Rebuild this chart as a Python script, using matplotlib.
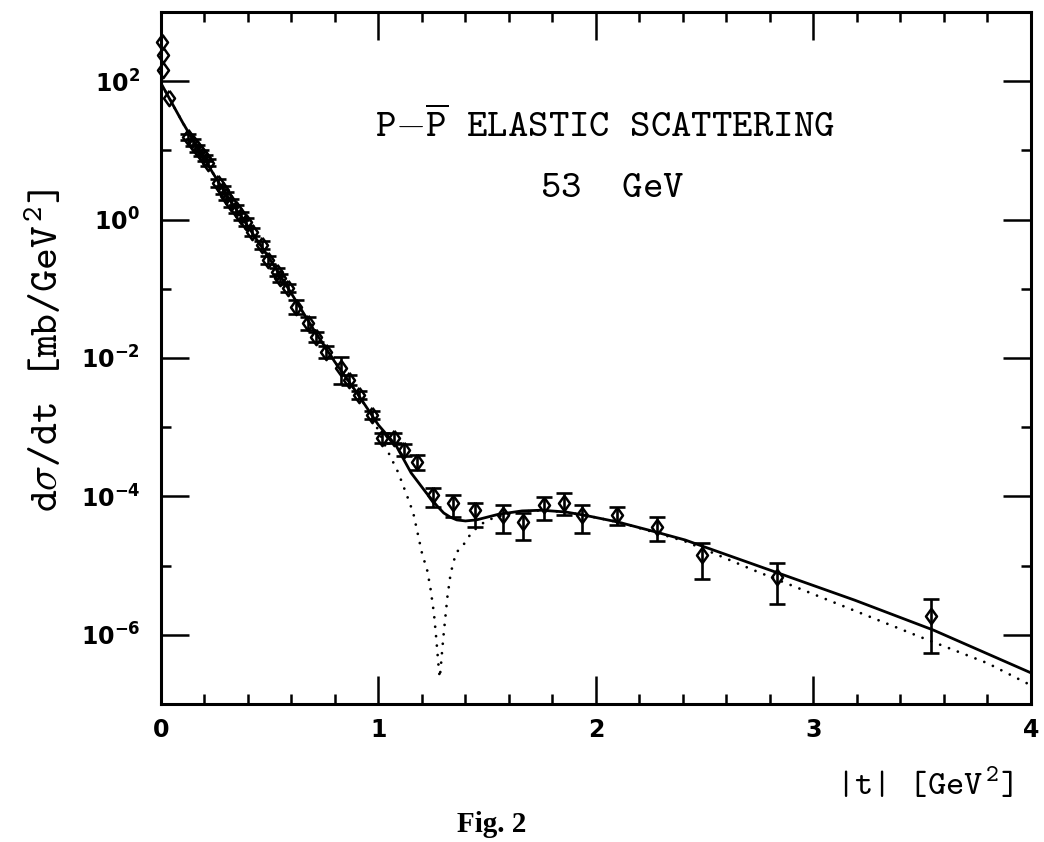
import numpy as np
import matplotlib
matplotlib.use("Agg")
import matplotlib.pyplot as plt
from matplotlib.ticker import FixedLocator, FuncFormatter, MultipleLocator, NullFormatter

# measured points: |t| [GeV^2] and dsigma/dt [mb/GeV^2]
t_data = [0.006, 0.008, 0.010, 0.037,
          0.123, 0.146, 0.164, 0.183, 0.201, 0.215,
          0.260, 0.283, 0.301, 0.324, 0.347, 0.370, 0.392, 0.419, 0.465,
          0.492, 0.534, 0.547, 0.583, 0.623, 0.674, 0.715, 0.760,
          0.829, 0.865, 0.910, 0.969, 1.015, 1.070, 1.116, 1.176,
          1.252, 1.344, 1.445, 1.574, 1.666, 1.759, 1.852, 1.934,
          2.096, 2.280, 2.486, 2.832, 3.541]
dsig_data = [368, 239, 145, 57.1,
             15.6, 12.8, 10.8, 9.16, 7.76, 6.58,
             3.38, 2.68, 2.19, 1.74, 1.42, 1.13, 0.923, 0.662, 0.430,
             0.261, 0.175, 0.143, 0.103, 0.0546, 0.0321, 0.0201, 0.0122,
             7.16e-3, 4.81e-3, 2.92e-3, 1.50e-3, 6.98e-4, 6.98e-4, 4.69e-4, 3.14e-4,
             1.05e-4, 8.04e-5, 6.35e-5, 5.38e-5, 4.27e-5, 7.50e-5, 8.04e-5, 5.38e-5,
             5.38e-5, 3.61e-5, 1.42e-5, 6.84e-6, 1.87e-6]
# error bar reach above / below each point, in decades
err_up_dec = [0, 0, 0, 0,
              0.05, 0.05, 0.05, 0.05, 0.05, 0.05,
              0.06, 0.06, 0.06, 0.06, 0.06, 0.06, 0.06, 0.06, 0.06,
              0.06, 0.06, 0.06, 0.06, 0.10, 0.09, 0.07, 0.08,
              0.16, 0.07, 0.06, 0.06, 0.07, 0.07, 0.09, 0.10,
              0.10, 0.12, 0.10, 0.14, 0.13, 0.12, 0.14, 0.14,
              0.12, 0.14, 0.17, 0.20, 0.25]
err_dn_dec = [0, 0, 0, 0,
              0.05, 0.05, 0.05, 0.05, 0.05, 0.05,
              0.06, 0.06, 0.06, 0.06, 0.06, 0.06, 0.06, 0.06, 0.06,
              0.06, 0.06, 0.06, 0.06, 0.10, 0.10, 0.07, 0.08,
              0.23, 0.07, 0.06, 0.06, 0.07, 0.07, 0.09, 0.12,
              0.17, 0.20, 0.25, 0.26, 0.26, 0.22, 0.17, 0.26,
              0.14, 0.20, 0.35, 0.39, 0.53]

# model curve (solid), log10 of dsigma/dt
fit_t = [0.0, 0.1, 0.2, 0.3, 0.4, 0.5, 0.6, 0.7, 0.8, 0.9, 1.0,
         1.08, 1.15, 1.22, 1.27, 1.30, 1.33, 1.36, 1.40, 1.45, 1.50, 1.55,
         1.66, 1.75, 1.86, 1.96, 2.10, 2.27, 2.41, 2.49, 2.84, 3.19, 3.55, 4.0]
fit_log = [1.97, 1.40, 0.87, 0.36, -0.10, -0.57, -1.07, -1.58, -2.06, -2.50, -2.97,
           -3.26, -3.66, -3.95, -4.14, -4.24, -4.30, -4.34, -4.355, -4.34, -4.30, -4.26,
           -4.21, -4.20, -4.225, -4.28, -4.37, -4.51, -4.63, -4.72, -5.11, -5.50, -5.93, -6.55]

# same model without the dip filling (dotted)
dip_t = [0.0, 0.1, 0.2, 0.3, 0.4, 0.5, 0.6, 0.7, 0.8, 0.9, 0.95, 1.0,
         1.04, 1.09, 1.13, 1.16, 1.18, 1.20, 1.225, 1.24, 1.255, 1.265, 1.273,
         1.278, 1.282, 1.287, 1.293, 1.30, 1.317, 1.332, 1.356, 1.398, 1.426,
         1.468, 1.505, 1.55, 1.60, 1.66, 1.75, 1.86, 1.96, 2.10, 2.27, 2.41,
         2.54, 2.72, 2.95, 3.18, 3.49, 3.80, 4.0]
dip_log = [1.97, 1.40, 0.87, 0.36, -0.10, -0.57, -1.07, -1.58, -2.06, -2.50, -2.74, -3.05,
           -3.33, -3.65, -3.98, -4.24, -4.53, -4.82, -5.08, -5.35, -5.69, -6.03, -6.33,
           -6.52, -6.62, -6.45, -6.22, -5.98, -5.45, -5.11, -4.82, -4.67, -4.53,
           -4.41, -4.34, -4.29, -4.25, -4.22, -4.20, -4.225, -4.28, -4.37, -4.52, -4.65,
           -4.82, -5.06, -5.35, -5.64, -6.03, -6.41, -6.73]

plt.rcParams['font.family'] = 'DejaVu Sans'
plt.rcParams['font.weight'] = 'bold'
# typewriter face for the annotations and axis titles
plt.rcParams['mathtext.fontset'] = 'custom'
plt.rcParams['mathtext.rm'] = 'cmtt10'
plt.rcParams['mathtext.it'] = 'cmtt10'
plt.rcParams['mathtext.tt'] = 'cmtt10'
plt.rcParams['mathtext.bf'] = 'cmtt10'
plt.rcParams['mathtext.fallback'] = 'cm'

fig = plt.figure(figsize=(10.44, 8.42), dpi=100)
ax = fig.add_axes([0.1542, 0.1639, 0.8333, 0.8219])

t = np.array(t_data)
y = np.array(dsig_data)
up = y * (10 ** np.array(err_up_dec) - 1)
dn = y * (1 - 10 ** -np.array(err_dn_dec))

diamond = [(0, 1), (0.72, 0), (0, -1), (-0.72, 0), (0, 1)]

ax.plot(dip_t, 10 ** np.array(dip_log), color='black', lw=2.0,
        linestyle=(0, (0.01, 3.4)), dash_capstyle='round', zorder=2)
ax.plot(fit_t, 10 ** np.array(fit_log), color='black', lw=2.0, zorder=3)

has_err = np.array(err_up_dec) > 0
ax.errorbar(t[has_err], y[has_err], yerr=[dn[has_err], up[has_err]], fmt='none',
            ecolor='black', elinewidth=1.9, capsize=5.5, capthick=1.9, zorder=4)
ax.plot(t, y, linestyle='none', marker=diamond, color='black', ms=11,
        mfc='none', mew=1.8, clip_on=False, zorder=5)

ax.set_xlim(0, 4)
ax.set_yscale('log')
ax.set_ylim(1e-7, 1e3)

ax.xaxis.set_major_locator(MultipleLocator(1))
ax.xaxis.set_minor_locator(MultipleLocator(0.2))
ax.yaxis.set_major_locator(FixedLocator([1e-6, 1e-4, 1e-2, 1e0, 1e2]))
ax.yaxis.set_minor_locator(FixedLocator([1e-5, 1e-3, 1e-1, 1e1]))
ax.yaxis.set_minor_formatter(NullFormatter())
ax.yaxis.set_major_formatter(FuncFormatter(
    lambda v, _: r'$\mathbf{10^{%d}}$' % round(np.log10(v))))
ax.xaxis.set_major_formatter(FuncFormatter(lambda v, _: '%d' % round(v)))

ax.tick_params(which='both', direction='in', top=True, right=True, width=1.8)
ax.tick_params(which='major', length=20, labelsize=17)
ax.tick_params(which='minor', length=7.5)
ax.tick_params(axis='x', which='major', pad=10)
ax.tick_params(axis='y', which='major', pad=15)
for s in ax.spines.values():
    s.set_linewidth(2.2)
fig.canvas.draw()
for lab in ax.get_yticklabels():
    lab.set_math_fontfamily('dejavusans')

# \quad is one 'm' advance, i.e. a full typewriter space
ax.text(0.246, 0.819, r'$P{-}\overline{P}\quad ELASTIC\quad SCATTERING$',
        transform=ax.transAxes, fontsize=28, ha='left', va='baseline')
ax.text(0.436, 0.733, r'$53\quad\quad GeV$', transform=ax.transAxes,
        fontsize=28, ha='left', va='baseline')

fig.text(0.045, 0.584, r'$d\sigma/dt\quad [mb/GeV^{2}]$',
         rotation=90, ha='center', va='center', fontsize=30)
fig.text(0.970, 0.056, r'$|t|\quad [GeV^{2}]$', ha='right', va='baseline',
         fontsize=25)
fig.text(0.471, 0.012, 'Fig. 2', ha='center', va='baseline', fontsize=21,
         family='Liberation Serif', weight='bold')

fig.savefig('out.png', dpi=100)
